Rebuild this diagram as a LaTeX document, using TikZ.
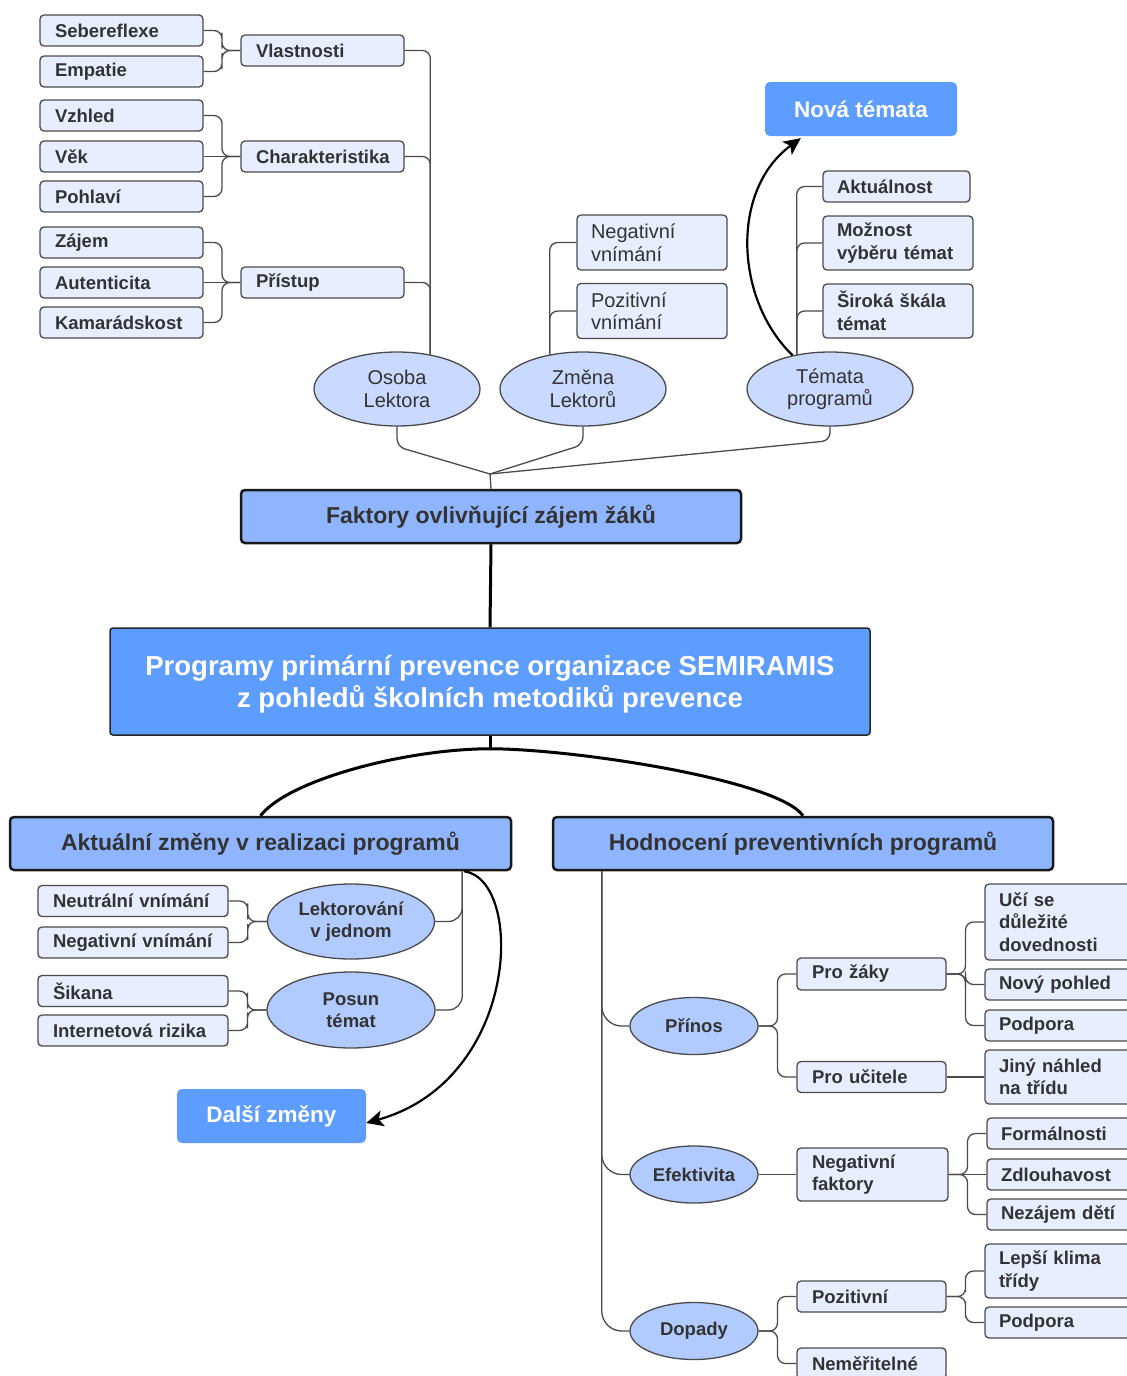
\documentclass[tikz,border=0pt]{standalone}
\usepackage{fontspec}
\setmainfont{Liberation Sans}
\usetikzlibrary{calc,shapes.geometric,arrows.meta}
\definecolor{leaffill}{HTML}{E8EEFF}
\definecolor{ellfill}{HTML}{C9D9FF}
\definecolor{elltwo}{HTML}{B2CBFF}
\definecolor{midblue}{HTML}{8FB5FF}
\definecolor{brightblue}{HTML}{5C9DFF}
\definecolor{linegray}{HTML}{4A4A4A}
\definecolor{txtgray}{HTML}{333333}
\newcommand\fLeaf{\fontsize{18.5}{22.5}\selectfont\bfseries}
\newcommand\fReg{\fontsize{20}{22.5}\selectfont}
\newcommand\fHub{\fontsize{23}{27}\selectfont\bfseries}
\newcommand\fTitle{\fontsize{27.5}{32}\selectfont\bfseries}
\newcommand\fNew{\fontsize{22.5}{26}\selectfont\bfseries}
\newcommand\mmlink[2]{\draw[conn] (#1.east) -| ($(#1.east)!0.5!(#2.west)$) |- (#2.west);}
\begin{document}
\begin{tikzpicture}[x=1pt,y=-1pt,
  leaf/.style={draw=linegray, line width=1.3pt, rounded corners=4pt, fill=leaffill, text=txtgray, font=\fLeaf, inner xsep=15pt, inner ysep=0pt, align=left},
  leafreg/.style={leaf, font=\fReg, inner xsep=14pt},
  ell/.style={ellipse, draw=linegray, line width=1.3pt, fill=ellfill, text=txtgray, inner sep=0pt, align=center, font=\fReg},
  elltw/.style={ell, fill=elltwo, font=\fLeaf},
  hub/.style={draw=black!90, line width=2.5pt, rounded corners=4pt, fill=midblue, text=txtgray, font=\fHub, inner sep=0pt},
  bluebox/.style={fill=brightblue, rounded corners=5pt, text=white, font=\fNew, inner sep=0pt},
  conn/.style={draw=linegray, line width=1.3pt, rounded corners=8pt},
  bigarrow/.style={draw=black, line width=2.2pt, -{Stealth[length=17pt,width=16pt,inset=4pt]}},
  thickline/.style={draw=black, line width=3pt}]
\useasboundingbox (0,0) rectangle (1127,1376);
\clip (0,0) rectangle (1127,1376);
\fill[white] (0,0) rectangle (1127,1376);

% ---------- top left ----------
\node[leaf, text width=133pt, minimum height=31pt] (seb) at (121.5,30.5) {Sebereflexe};
\node[leaf, text width=133pt, minimum height=31pt] (emp) at (121.5,71.5) {Empatie};
\node[leaf, text width=133pt, minimum height=31pt] (vzh) at (121.5,115.5) {Vzhled};
\node[leaf, text width=133pt, minimum height=31pt] (vek) at (121.5,156.5) {Věk};
\node[leaf, text width=133pt, minimum height=31pt] (poh) at (121.5,196.5) {Pohlaví};
\node[leaf, text width=133pt, minimum height=31pt] (zaj) at (121.5,242.5) {Zájem};
\node[leaf, text width=133pt, minimum height=31pt] (aut) at (121.5,282.5) {Autenticita};
\node[leaf, text width=133pt, minimum height=31pt] (kam) at (121.5,322.5) {Kamarádskost};
\node[leaf, text width=133pt, minimum height=31pt] (vla) at (322.5,50.5) {Vlastnosti};
\node[leaf, text width=133pt, minimum height=31pt] (cha) at (322.5,156.5) {Charakteristika};
\node[leaf, text width=133pt, minimum height=31pt] (pri) at (322.5,282.5) {Přístup};

% ---------- top centre / right ----------
\node[leafreg, text width=122pt, minimum height=55pt] (negv) at (652,242.5) {Negativní\\vnímání};
\node[leafreg, text width=122pt, minimum height=55pt] (pozv) at (652,311) {Pozitivní\\vnímání};
\node[leaf, inner xsep=14pt, text width=119pt, minimum height=31pt] (akt) at (896.5,186.5) {Aktuálnost};
\node[leaf, inner xsep=14pt, text width=122pt, minimum height=54pt] (moz) at (898,243) {Možnost\\výběru témat};
\node[leaf, inner xsep=14pt, text width=122pt, minimum height=54pt] (sir) at (898,311) {Široká škála\\témat};
\node[bluebox, minimum width=192pt, minimum height=54pt] (nova) at (861,109) {Nová témata};

\node[ell, minimum width=166pt, minimum height=74pt] (osoba) at (397,389) {Osoba\\Lektora};
\node[ell, minimum width=166pt, minimum height=74pt] (zmena) at (583,389) {Změna\\Lektorů};
\node[ell, minimum width=166pt, minimum height=74pt] (temata) at (830,389) {Témata\\programů};

% ---------- centre ----------
\node[hub, minimum width=500pt, minimum height=53pt] (faktory) at (491,516.5) {Faktory ovlivňující zájem žáků};
\node[draw=black!85, line width=1.5pt, rounded corners=3pt, fill=brightblue, text=white, font=\fTitle, align=center, inner sep=0pt, minimum width=760pt, minimum height=107pt] (title) at (490,681.5) {\rule{0pt}{25pt}Programy primární prevence organizace SEMIRAMIS\\z pohledů školních metodiků prevence};
\node[hub, minimum width=501pt, minimum height=53pt] (aktualni) at (260.5,843.5) {Aktuální změny v realizaci programů};
\node[hub, minimum width=500pt, minimum height=53pt] (hodnoceni) at (803,843.5) {Hodnocení preventivních programů};

% ---------- bottom left ----------
\node[leaf, text width=160pt, minimum height=31pt] (neu) at (133,901) {Neutrální vnímání};
\node[leaf, text width=160pt, minimum height=31pt] (negd) at (133,942.5) {Negativní vnímání};
\node[leaf, text width=160pt, minimum height=31pt] (sik) at (133,991) {Šikana};
\node[leaf, text width=160pt, minimum height=31pt] (inte) at (133,1030.5) {Internetová rizika};
\node[elltw, minimum width=167pt, minimum height=75pt] (lek) at (351,921.5) {Lektorování\\v jednom};
\node[elltw, minimum width=168pt, minimum height=76pt] (pos) at (351,1010) {Posun\\témat};
\node[bluebox, minimum width=189pt, minimum height=54pt] (dalsi) at (271.5,1116) {Další změny};

% ---------- bottom right ----------
\node[elltw, minimum width=128pt, minimum height=57pt] (prinos) at (694,1026) {Přínos};
\node[elltw, minimum width=128pt, minimum height=57pt] (efek) at (694,1174.5) {Efektivita};
\node[elltw, minimum width=128pt, minimum height=57pt] (dop) at (694,1331) {Dopady};

\node[leaf, text width=119pt, minimum height=32pt] (proz) at (871.5,974) {Pro žáky};
\node[leaf, text width=119pt, minimum height=31pt] (prou) at (871.5,1077) {Pro učitele};
\node[leaf, text width=121pt, minimum height=53pt] (negf) at (872.5,1174.5) {Negativní\\faktory};
\node[leaf, text width=119pt, minimum height=31pt] (poz) at (871.5,1296.5) {Pozitivní};
\node[leaf, text width=119pt, minimum height=31pt] (nem) at (871.5,1363.5) {Neměřitelné};

\node[leaf, inner xsep=14pt, text width=132pt, minimum height=76pt] (uci) at (1065,922) {Učí se\\důležité\\dovednosti};
\node[leaf, inner xsep=14pt, text width=132pt, minimum height=31pt] (nov) at (1065,984.5) {Nový pohled};
\node[leaf, inner xsep=14pt, text width=132pt, minimum height=31pt] (podA) at (1065,1025.5) {Podpora};
\node[leaf, inner xsep=14pt, text width=132pt, minimum height=54pt] (jin) at (1065,1077) {Jiný náhled\\na třídu};
\node[leaf, inner xsep=14pt, text width=132pt, minimum height=31pt] (frm) at (1067,1133.5) {Formálnosti};
\node[leaf, inner xsep=14pt, text width=132pt, minimum height=31pt] (zdl) at (1067,1174.5) {Zdlouhavost};
\node[leaf, inner xsep=14pt, text width=132pt, minimum height=31pt] (nez) at (1067,1214.5) {Nezájem dětí};
\node[leaf, inner xsep=14pt, text width=132pt, minimum height=54pt] (lep) at (1065,1271) {Lepší klima\\třídy};
\node[leaf, inner xsep=14pt, text width=132pt, minimum height=31pt] (podB) at (1065,1322.5) {Podpora};

% ---------- connectors: top ----------
\mmlink{seb}{vla} \mmlink{emp}{vla}
\mmlink{vzh}{cha} \mmlink{poh}{cha} \draw[conn] (vek.east) -- (cha.west);
\mmlink{zaj}{pri} \mmlink{kam}{pri} \draw[conn] (aut.east) -- (pri.west);
\draw[conn] (vla.east) -| (osoba.46);
\draw[conn] (cha.east) -| (osoba.46);
\draw[conn] (pri.east) -| (osoba.46);
\draw[conn] (zmena.134) |- (negv.west);
\draw[conn] (zmena.134) |- (pozv.west);
\draw[conn] (temata.134) |- (akt.west);
\draw[conn] (temata.134) |- (moz.west);
\draw[conn] (temata.134) |- (sir.west);
\draw[bigarrow] (temata.138) .. controls (735,300) and (730,190) .. ($(nova.south west)+(36,2)$);

\coordinate (j1) at (490,474);
\draw[conn] (osoba.south) -- ++(0,20) -- (j1);
\draw[conn] (zmena.south) -- ++(0,18) -- (j1);
\draw[conn] (temata.south) -- ++(0,14) -- (j1);
\draw[conn] (j1) -- (faktory.north);

% ---------- connectors: centre ----------
\draw[thickline] (faktory.south) -- (title.north);
\draw[thickline] (title.south) -- ++(0,13) coordinate (j2);
\draw[thickline] (j2) .. controls (405,749) and (288,780) .. (aktualni.north);
\draw[thickline] (j2) .. controls (575,749) and (778,780) .. (hodnoceni.north);

% ---------- connectors: bottom left ----------
\coordinate (t4) at ($(aktualni.south east)+(-50,0)$);
\draw[conn, rounded corners=14pt] (t4) |- (lek.east);
\draw[conn, rounded corners=14pt] (t4) |- (pos.east);
\mmlink{neu}{lek} \mmlink{negd}{lek}
\mmlink{sik}{pos} \mmlink{inte}{pos}
\draw[bigarrow] ($(aktualni.south east)+(-48,0)$) .. controls (525,880) and (520,1080) .. ($(dalsi.east)+(0,7)$);

% ---------- connectors: bottom right ----------
\coordinate (t5) at ($(hodnoceni.south west)+(50,0)$);
\draw[conn, rounded corners=20pt] (t5) |- (prinos.west);
\draw[conn, rounded corners=20pt] (t5) |- (efek.west);
\draw[conn, rounded corners=20pt] (t5) |- (dop.west);
\mmlink{prinos}{proz} \mmlink{prinos}{prou}
\draw[conn] (efek.east) -- (negf.west);
\mmlink{dop}{poz} \mmlink{dop}{nem}
\mmlink{proz}{uci} \mmlink{proz}{nov} \mmlink{proz}{podA}
\draw[conn] (prou.east) -- (jin.west);
\mmlink{negf}{frm} \mmlink{negf}{nez} \draw[conn] (negf.east) -- (zdl.west);
\mmlink{poz}{lep} \mmlink{poz}{podB}
\end{tikzpicture}
\end{document}
